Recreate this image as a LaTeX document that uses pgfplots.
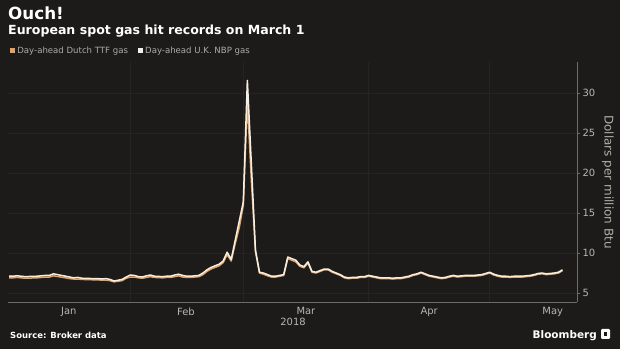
\documentclass[border=0pt]{standalone}
\usepackage{pgfplots}
\pgfplotsset{compat=1.18}
\usepackage{fontspec}
\setmainfont{DejaVu Sans}
\definecolor{bg}{HTML}{1D1B19}
\definecolor{nbp}{HTML}{F2EFE8}
\definecolor{ttf}{HTML}{E6A25C}
\definecolor{axisgray}{HTML}{6E6C6A}
\definecolor{gridc}{HTML}{262422}
\definecolor{ticktext}{HTML}{B8B6B2}
\begin{document}
\begin{tikzpicture}
\useasboundingbox (0,0) rectangle (620bp,349bp);
\fill[bg] (0,0) rectangle (620bp,349bp);
\node[anchor=base west, inner sep=0, text=white, font=\fontsize{16.8}{19}\selectfont\bfseries] at (8bp,329bp) {Ouch!};
\node[anchor=base west, inner sep=0, text=white, font=\fontsize{12.6}{14}\selectfont\bfseries] at (8bp,314bp) {European spot gas hit records on March 1};
\node[anchor=base west, inner sep=0, text=white, font=\fontsize{8.5}{10}\selectfont\bfseries] at (10bp,11bp) {Source: Broker data};
\node[anchor=base east, inner sep=0, text=white, font=\fontsize{10.5}{12}\selectfont\bfseries] at (597bp,11bp) {Bloomberg};
\fill[white, rounded corners=1.2bp] (601bp,10bp) rectangle (610bp,20bp);
\fill[bg] (604bp,13bp) rectangle (607bp,17bp);
\begin{axis}[
  at={(8bp,47bp)}, anchor=south west,
  scale only axis, width=569bp, height=240bp,
  xmin=0.75, xmax=141.6, ymin=3.875, ymax=33.9,
  axis x line=bottom, axis y line=right,
  axis line style={axisgray, line width=0.8bp, -},
  xtick={15.8,44.8,74.5,105,135.6},
  xticklabels={Jan,Feb,Mar,Apr,May},
  x tick style={draw=none},
  extra x ticks={31,59,90,120},
  extra x tick labels={},
  extra x tick style={grid=major, major grid style={gridc, line width=0.6bp}, tick style={draw=axisgray, line width=0.8bp}, major tick length=2bp},
  ytick={5,10,15,20,25,30},
  ymajorgrids, major grid style={gridc, line width=0.6bp},
  y tick style={axisgray, line width=0.8bp}, major tick length=3bp,
  tick align=outside,
  /pgf/number format/assume math mode=true,
  tick label style={text=ticktext, font=\fontsize{10}{12}\selectfont},
  xticklabel style={yshift=1bp},
  yticklabel style={xshift=-1bp},
  ylabel={Dollars per million Btu},
  ylabel style={rotate=180, text=ticktext!110, font=\fontsize{12}{14}\selectfont, yshift=0bp},
  clip=false,
  legend style={at={(axis description cs:0,1)}, anchor=south west, xshift=2bp, yshift=5bp, inner sep=0pt, draw=none, fill=none, font=\fontsize{8.6}{10}\selectfont, text=ticktext!115, legend columns=2, /tikz/every even column/.append style={column sep=8bp}},
  legend image code/.code={\fill[#1, draw=none] (0bp,-2.6bp) rectangle (5.2bp,2.6bp);},
]
\addplot[ttf, line width=1.5bp, line join=round] coordinates {
(1,6.9)(2,6.9)(3,6.95)(4,6.9)(5,6.85)(8,6.9)(9,6.95)(10,7.0)(11,7.0)(12,7.15)
(15,6.9)(16,6.8)(17,6.75)(18,6.75)(19,6.7)(22,6.65)(23,6.65)(24,6.6)(25,6.6)(26,6.55)
(27,6.4)(29,6.55)(30,6.85)(31,7.0)(32,7.0)(33,6.9)(34,6.85)(35,6.95)(36,7.05)(37,6.95)
(39,6.9)(40,6.95)(41,6.95)(42,7.05)(43,7.15)(44,7.0)(45,6.95)(46,6.95)(47,7.0)(48,7.05)
(49,7.3)(50,7.7)(51,8.0)(52,8.2)(53,8.4)(54,8.8)(55,9.8)(56,9.0)(57,11.2)(58,13.2)
(59,16.0)(60,29.0)(61,19.0)(62,10.2)(63,7.5)(64,7.35)(65,7.15)(66,7.0)(67,7.0)(68,7.1)
(69,7.2)(70,9.3)(71,9.1)(72,8.9)(73,8.35)(74,8.15)(75,8.75)(76,7.6)(77,7.5)(78,7.7)
(79,7.9)(80,7.9)(81,7.6)(82,7.4)(83,7.2)(84,6.9)(85,6.8)(86,6.85)(87,6.85)(88,6.95)
(89,6.95)(90,7.1)(91,7.0)(92,6.9)(93,6.8)(95,6.8)(96,6.75)(97,6.8)(98,6.8)(99,6.9)
(100,7.0)(101,7.2)(102,7.3)(103,7.5)(104,7.3)(105,7.1)(106,7.0)(107,6.9)(108,6.8)(109,6.85)
(110,7.0)(111,7.1)(112,7.0)(113,7.05)(114,7.1)(115,7.1)(116,7.1)(117,7.15)(118,7.2)(119,7.35)
(120,7.5)(121,7.25)(122,7.1)(123,7.0)(124,7.0)(125,6.95)(126,7.0)(127,7.0)(128,7.0)(129,7.05)
(130,7.1)(131,7.2)(132,7.35)(133,7.4)(134,7.3)(135,7.35)(136,7.4)(137,7.5)(138,7.8)
};
\addlegendentry{Day-ahead Dutch TTF gas}
\addplot[nbp, line width=1.5bp, line join=round] coordinates {
(1,7.1)(2,7.1)(3,7.15)(4,7.1)(5,7.05)(8,7.1)(9,7.15)(10,7.2)(11,7.2)(12,7.4)
(15,7.1)(16,7.0)(17,6.9)(18,6.95)(19,6.85)(22,6.8)(23,6.8)(24,6.75)(25,6.8)(26,6.7)
(27,6.5)(29,6.7)(30,7.0)(31,7.25)(32,7.2)(33,7.05)(34,7.0)(35,7.15)(36,7.25)(37,7.1)
(39,7.05)(40,7.1)(41,7.1)(42,7.25)(43,7.35)(44,7.2)(45,7.1)(46,7.1)(47,7.15)(48,7.2)
(49,7.5)(50,7.9)(51,8.2)(52,8.4)(53,8.6)(54,9.0)(55,10.1)(56,9.2)(57,11.6)(58,14.0)
(59,16.4)(60,31.6)(61,21.0)(62,10.4)(63,7.6)(64,7.5)(65,7.3)(66,7.1)(67,7.1)(68,7.2)
(69,7.3)(70,9.5)(71,9.3)(72,9.1)(73,8.5)(74,8.3)(75,8.9)(76,7.7)(77,7.6)(78,7.8)
(79,8.0)(80,8.0)(81,7.7)(82,7.5)(83,7.3)(84,7.0)(85,6.9)(86,6.95)(87,6.95)(88,7.05)
(89,7.05)(90,7.2)(91,7.1)(92,7.0)(93,6.9)(95,6.9)(96,6.85)(97,6.9)(98,6.9)(99,7.0)
(100,7.1)(101,7.3)(102,7.4)(103,7.6)(104,7.4)(105,7.2)(106,7.1)(107,7.0)(108,6.9)(109,6.95)
(110,7.1)(111,7.2)(112,7.1)(113,7.15)(114,7.2)(115,7.2)(116,7.2)(117,7.25)(118,7.3)(119,7.45)
(120,7.6)(121,7.35)(122,7.2)(123,7.1)(124,7.1)(125,7.05)(126,7.1)(127,7.1)(128,7.1)(129,7.15)
(130,7.2)(131,7.3)(132,7.45)(133,7.5)(134,7.4)(135,7.45)(136,7.5)(137,7.6)(138,7.9)
};
\addlegendentry{Day-ahead U.K. NBP gas}
\node[text=ticktext, font=\fontsize{10}{12}\selectfont, anchor=base] at (axis cs:71.3,3.875) [yshift=-24bp] {2018};
\end{axis}
\end{tikzpicture}
\end{document}
